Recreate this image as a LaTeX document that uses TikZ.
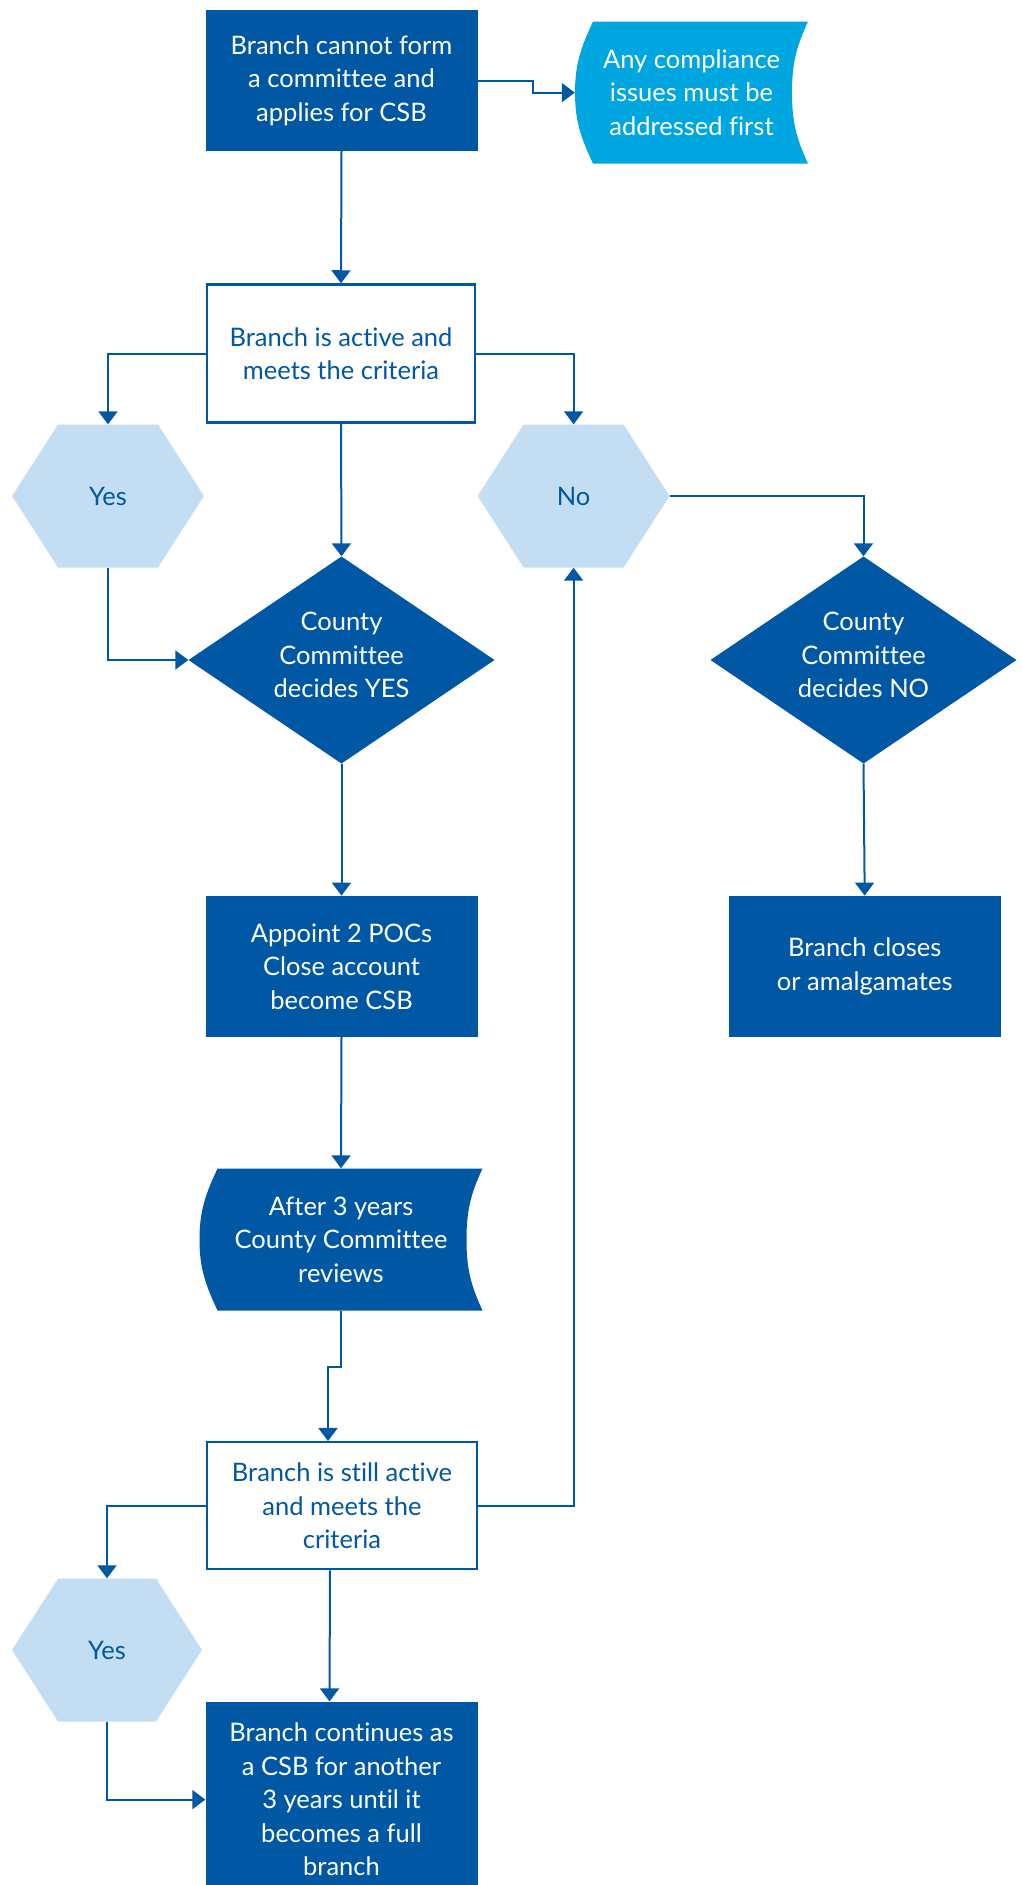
\documentclass[tikz,border=0pt]{standalone}
\usepackage{fontspec}
\setmainfont{Lato}[Ligatures=NoCommon]
\usetikzlibrary{arrows.meta,calc}
\definecolor{dblue}{HTML}{0057A4}
\definecolor{cyanb}{HTML}{00A6E0}
\definecolor{lhex}{HTML}{C3DEF2}
\tikzset{
  txt/.style={font=\fontsize{25.5}{33.5}\selectfont, align=center, inner sep=0pt},
  darkbox/.style={txt, rectangle, fill=dblue, text=white, minimum width=272pt, minimum height=141pt},
  whitebox/.style={txt, rectangle, fill=white, draw=dblue, line width=2.5pt, text=dblue, minimum width=268pt, minimum height=138pt},
  hexbox/.style={txt, rectangle, minimum width=192pt, minimum height=143pt, text=dblue,
    path picture={\fill[lhex] ([xshift=46pt]path picture bounding box.north west)
      -- ([xshift=-46pt]path picture bounding box.north east)
      -- (path picture bounding box.east)
      -- ([xshift=-46pt]path picture bounding box.south east)
      -- ([xshift=46pt]path picture bounding box.south west)
      -- (path picture bounding box.west) -- cycle;}},
  diabox/.style={txt, rectangle, minimum width=306pt, minimum height=207pt, text=white,
    path picture={\fill[dblue] (path picture bounding box.north)
      -- (path picture bounding box.east)
      -- (path picture bounding box.south)
      -- (path picture bounding box.west) -- cycle;}},
  tapebox/.style={txt, rectangle, minimum width=#1, minimum height=142pt, text=white},
  tapefill/.style={path picture={\fill[#1] ([xshift=18pt]path picture bounding box.north west)
      -- (path picture bounding box.north east)
      to[out=245,in=90] ([xshift=-16pt]path picture bounding box.east)
      to[out=-90,in=115] (path picture bounding box.south east)
      -- ([xshift=18pt]path picture bounding box.south west)
      to[out=115,in=-90] (path picture bounding box.west)
      to[out=90,in=245] ([xshift=18pt]path picture bounding box.north west) -- cycle;}},
  arr/.style={draw=dblue, line width=2pt, -{Triangle[width=19pt,length=13pt]}},
}
\begin{document}
\begin{tikzpicture}[x=1pt,y=-1pt]
\useasboundingbox (0,0) rectangle (1021,1885);
\clip (0,0) rectangle (1021,1885);
\node[darkbox] (box1) at (341.5,80.5) {Branch cannot form\\a committee and\\applies for CSB};
\node[tapebox=233pt, tapefill=cyanb] (comp) at (691.5,92.6) {Any compliance\\issues must be\\addressed first};
\node[whitebox] (box2) at (341,353.5) {Branch is active and\\meets the criteria};
\node[hexbox] (yes1) at (108,496) {Yes};
\node[hexbox] (no1) at (573.6,496) {No};
\node[diabox] (dyes) at (341.5,660) {County\\Committee\\decides YES\\[-23.5pt]};
\node[diabox] (dno) at (863.5,660) {County\\Committee\\decides NO\\[-23.5pt]};
\node[darkbox] (appoint) at (341.5,966.3) {Appoint 2 POCs\\Close account\\become CSB};
\node[darkbox] (closes) at (864.7,966.3) {Branch closes\\or amalgamates};
\node[tapebox=283pt, tapefill=dblue] (after3) at (341,1239.5) {After 3 years\\County Committee\\reviews};
\node[whitebox, minimum width=270pt, minimum height=127pt] (still) at (342,1505.7) {Branch is still active\\and meets the\\criteria};
\node[hexbox, minimum width=190pt] (yes2) at (107,1650) {Yes};
\node[darkbox, minimum height=196pt] (final) at (341.5,1799.6) {Branch continues as\\a CSB for another\\3 years until it\\becomes a full\\branch};

\draw[arr] (box1.east) -- ++(55,0) |- (comp.west);
\draw[arr] (box1.south) -- (box2.north);
\draw[arr] (box2.west) -| (yes1.north);
\draw[arr] (box2.east) -| (no1.north);
\draw[arr] (box2.south) -- (dyes.north);
\draw[arr] (yes1.south) |- (dyes.west);
\draw[arr] (no1.east) -| (dno.north);
\draw[arr] (dno.south) -- (closes.north);
\draw[arr] (dyes.south) -- (appoint.north);
\draw[arr] (appoint.south) -- (after3.north);
\draw[arr] (after3.south) -- ++(0,56) -| ([xshift=-14pt]still.north);
\draw[arr] (still.east) -| (no1.south);
\draw[arr] (still.west) -| (yes2.north);
\draw[arr] ([xshift=-12pt]still.south) -- ([xshift=-12pt]final.north);
\draw[arr] (yes2.south) |- (final.west);
\end{tikzpicture}
\end{document}
